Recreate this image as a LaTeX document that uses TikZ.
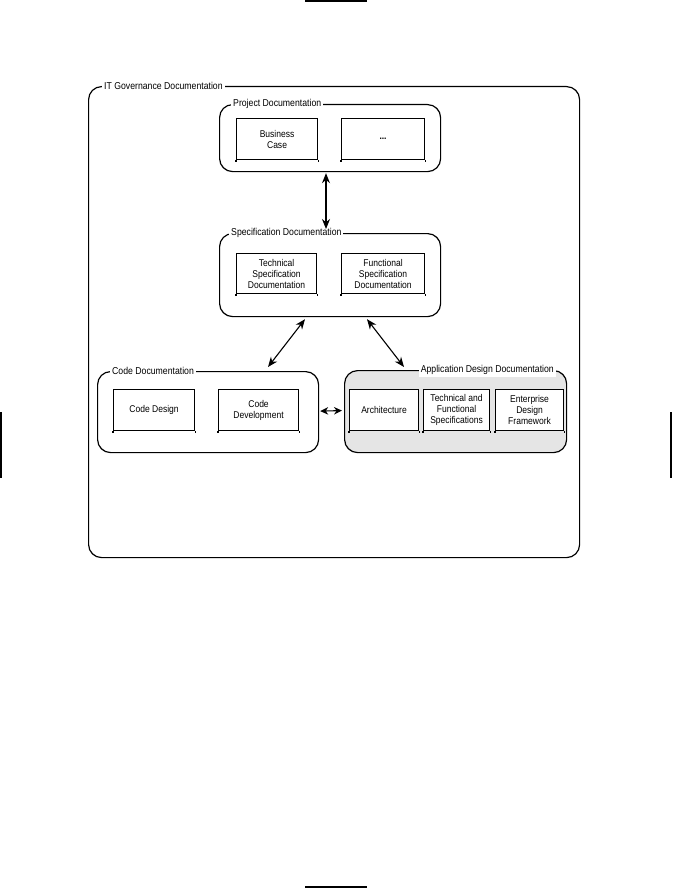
\documentclass[tikz,border=0pt]{standalone}
\usepackage{fontspec}
\setmainfont{Liberation Sans}[FakeStretch=0.87]
\usetikzlibrary{arrows.meta,calc}
\begin{document}
\begin{tikzpicture}[x=1pt,y=-1pt,
  group/.style={draw,line width=1.2pt,rounded corners=13pt,anchor=north west,inner sep=0pt},
  grouplabel/.style={fill=white,inner sep=2pt,font=\fontsize{10}{11}\selectfont,anchor=west},
  item/.style={draw,line width=1.1pt,fill=white,anchor=north west,inner sep=0pt,align=center,
    font=\fontsize{9.8}{11}\selectfont},
  arr/.style={line width=1.1pt,{Stealth[length=10pt,width=8pt]}-{Stealth[length=10pt,width=8pt]}},
  shortarr/.style={line width=1.1pt,{Stealth[length=8pt,width=7.5pt]}-{Stealth[length=8pt,width=7.5pt]}},
  cropmark/.style={fill=black,draw=none}
]
\useasboundingbox (0,0) rectangle (672,888);
% crop marks
\fill[cropmark] (305,0) rectangle (367,2);
\fill[cropmark] (305,886) rectangle (367,888);
\fill[cropmark] (0,412) rectangle (2,478);
\fill[cropmark] (670,412) rectangle (672,478);

% outer
\node[group,minimum width=491pt,minimum height=471pt] (it) at (88,86) {};
\node[grouplabel] (itl) at (102,86) {IT Governance Documentation};

% project
\node[group,minimum width=221pt,minimum height=67pt] (proj) at (219,104) {};
\node[grouplabel] (projl) at (231,104) {Project Documentation};
\node[item,minimum width=81pt,minimum height=41pt] (bc) at (236,118) {Business\\Case};
\node[item,minimum width=83pt,minimum height=41pt] (dots) at (341,118) {\textbf{...}};

% specification
\node[group,minimum width=221pt,minimum height=83pt] (spec) at (219,233) {};
\node[grouplabel] (specl) at (229,233) {Specification Documentation};
\node[item,minimum width=80pt,minimum height=40pt] (tsd) at (236,253) {Technical\\Specification\\Documentation};
\node[item,minimum width=83pt,minimum height=40pt] (fsd) at (341,253) {Functional\\Specification\\Documentation};

% code
\node[group,minimum width=221pt,minimum height=81pt] (code) at (97,371) {};
\node[grouplabel] (codel) at (110,371) {Code Documentation};
\node[item,minimum width=81pt,minimum height=41pt] (cd) at (113,389) {Code Design};
\node[item,minimum width=80pt,minimum height=41pt] (cdev) at (218,389) {Code\\Development};

% application
\node[group,fill=black!10,minimum width=222pt,minimum height=82pt] (app) at (344,370) {};
\node[grouplabel,anchor=east] (appl) at (556,370) {Application Design Documentation};
\node[item,minimum width=69pt,minimum height=41pt] (arch) at (349,389) {Architecture};
\node[item,minimum width=66pt,minimum height=41pt] (tfs) at (423,389) {Technical and\\Functional\\Specifications};
\node[item,minimum width=68pt,minimum height=41pt] (edf) at (495,389) {Enterprise\\Design\\Framework};

% small ticks below inner boxes
\foreach \n in {bc,dots,tsd,fsd,cd,cdev,arch,tfs,edf}
  \draw[line width=1.1pt] (\n.south west) -- ++(0,2) (\n.south east) -- ++(0,2);

% connectors
\draw[arr] ($(proj.south west)+(107,1)$) -- ($(spec.north west)+(107,-4)$);
\draw[arr] ($(spec.south west)+(86,2)$) -- ($(code.north west)+(171,-4)$);
\draw[arr] ($(spec.south west)+(148,2)$) -- ($(app.north west)+(60,-3)$);
\draw[shortarr] ($(code.east)+(1,-1)$) -- ($(app.west)+(-2,-1)$);
\end{tikzpicture}
\end{document}
